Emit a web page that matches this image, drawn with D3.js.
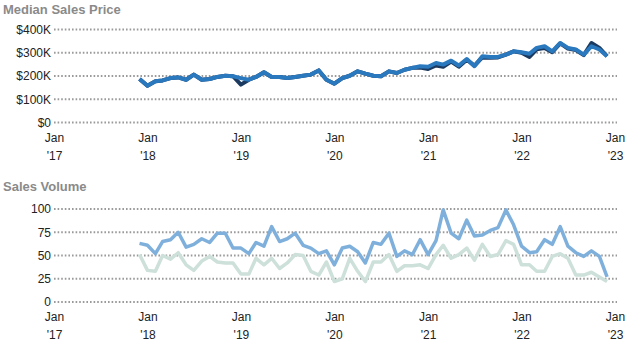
<!DOCTYPE html>
<html><head><meta charset="utf-8">
<script src="https://cdn.jsdelivr.net/npm/d3@7"></script>
<style>body{margin:0;background:#fff}svg{display:block;font-family:Arial,"Liberation Sans",sans-serif}</style>
</head><body><svg id="c" width="633" height="350"></svg>
<script>
const startMonth = "2017-12";
const priceTicks = [0, 100000, 200000, 300000, 400000];
const volumeTicks = [0, 25, 50, 75, 100];
const xTickYears = [2017, 2018, 2019, 2020, 2021, 2022, 2023];
// Median sales price, two series (Dec 2017 – Dec 2022), in $K
const priceA = [187,158,177,181,191,194,184,206,184,187,196,201,199,163,184,196,216,196,196,191,196,201,206,224,
  184,167,191,201,220,210,201,199,220,213,227,235,236,230,245,240,262,240,270,245,280,278,280,292,306,
  300,282,315,320,302,340,318,312,290,342,321,285];
const priceB = [187,158,177,181,191,194,184,206,184,187,196,201,199,191,184,196,216,196,196,191,196,201,206,224,
  184,167,191,201,220,210,201,199,220,213,227,235,242,240,256,249,266,245,273,242,285,282,282,292,306,
  302,296,321,328,306,342,321,314,292,328,314,285];
// Sales volume, two series
const volA = [63,61,52,65,67,75,59,62,68,64,74,74,58,58,52,64,60,81,65,68,74,61,58,52,
  55,40,58,60,54,42,64,62,74,49,55,51,67,51,66,99,74,68,88,71,72,77,80,99,83,
  60,53,54,67,62,81,60,53,49,55,49,27];
const volB = [51,34,33,50,46,53,40,34,44,49,43,42,42,30,30,47,40,47,36,42,51,50,33,29,
  43,22,25,47,33,22,43,43,51,33,39,39,40,36,51,61,47,51,58,45,62,49,51,66,62,
  40,40,33,33,49,52,47,29,29,32,27,22];

const parse = d3.timeParse("%Y-%m");
const t0 = parse(startMonth);
const dates = d3.range(volA.length).map(i => d3.timeMonth.offset(t0, i));

const svg = d3.select("#c");
const x = d3.scaleTime().domain([new Date(2017,0,1), new Date(2023,0,1)]).range([54, 615]);

function panel(cfg) {
  const g = svg.append("g");
  const y = d3.scaleLinear().domain([0, cfg.max]).range([cfg.y0, cfg.y1]);
  g.append("text").attr("x", 3).attr("y", cfg.titleY).text(cfg.title)
    .attr("fill", "#8a8a8a").attr("font-weight", "bold").attr("font-size", 13);
  const ya = g.append("g").call(d3.axisLeft(y).tickValues(cfg.ticks).tickFormat(cfg.fmt).tickSize(0).tickPadding(0))
    .attr("transform", "translate(51,0)");
  ya.select(".domain").remove();
  ya.selectAll("text").attr("font-size", 12).attr("fill", "#222").attr("font-family", "Arial,'Liberation Sans',sans-serif");
  g.selectAll(".grid").data(cfg.ticks).join("line")
    .attr("x1", 54).attr("x2", 617).attr("y1", d => y(d)).attr("y2", d => y(d))
    .attr("stroke", "#9a9a9a").attr("stroke-width", 2).attr("stroke-dasharray", "1.6,2");
  const xa = g.append("g").attr("transform", `translate(0,${cfg.y0})`)
    .call(d3.axisBottom(x).tickValues(xTickYears.map(yr => new Date(yr,0,1))).tickSize(0).tickFormat(() => ""));
  xa.select(".domain").remove();
  xa.selectAll(".tick").each(function(d) {
    const t = d3.select(this);
    t.append("text").attr("y", 19).attr("text-anchor", "middle").attr("fill", "#222").attr("font-size", 12).text("Jan");
    t.append("text").attr("y", 37).attr("text-anchor", "middle").attr("fill", "#222").attr("font-size", 12)
      .text("'" + String(d.getFullYear()).slice(2));
  });
  const line = d3.line().x((d, i) => x(dates[i])).y(d => y(d * cfg.mult)).curve(d3.curveLinear);
  cfg.series.forEach(s => {
    g.append("path").datum(s.data).attr("d", line).attr("fill", "none")
      .attr("stroke", s.color).attr("stroke-width", s.w).attr("stroke-linejoin", "round");
  });
}

panel({title: "Median Sales Price", titleY: 14, y0: 122.5, y1: 29.5, max: 400000, ticks: priceTicks,
  fmt: d => d === 0 ? "$0" : "$" + d / 1000 + "K", mult: 1000,
  series: [{data: priceA, color: "#1c3a60", w: 4}, {data: priceB, color: "#2a78be", w: 4}]});
panel({title: "Sales Volume", titleY: 191, y0: 302, y1: 209, max: 100, ticks: volumeTicks,
  fmt: d => d, mult: 1,
  series: [{data: volB, color: "#cde0da", w: 3.5}, {data: volA, color: "#7fb0dc", w: 3.5}]});
</script></body></html>
